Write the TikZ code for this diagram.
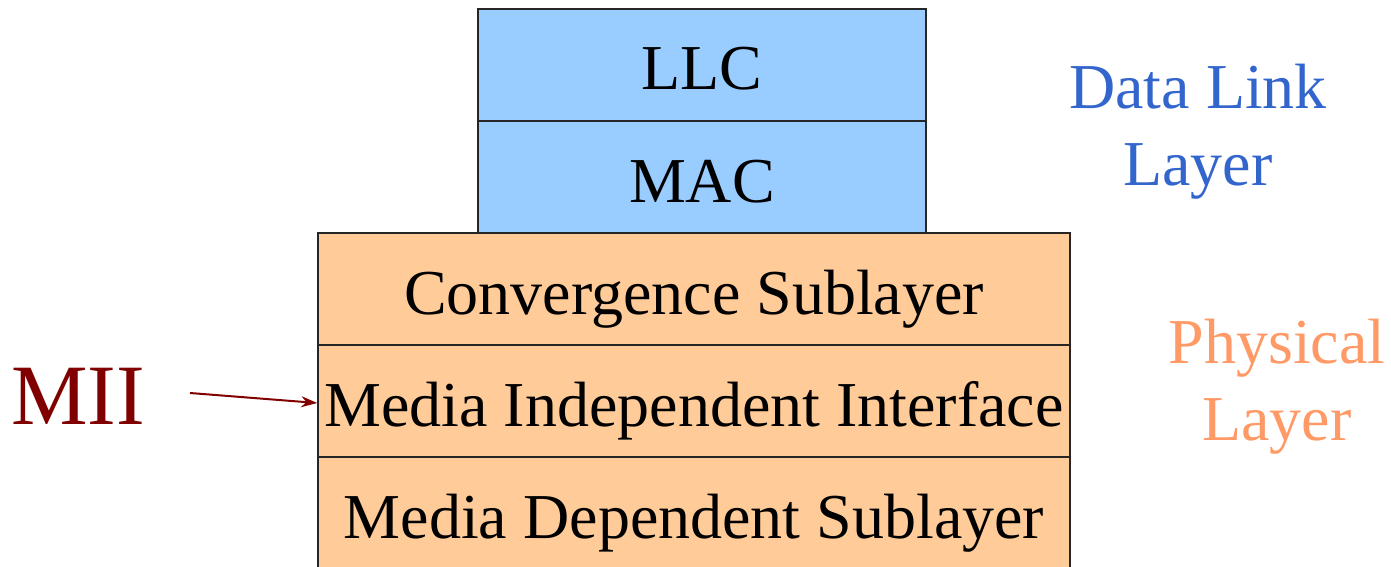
\documentclass[tikz,border=0pt]{standalone}
\usepackage{fontspec}
\setmainfont{Liberation Serif}
\usetikzlibrary{arrows.meta}
\definecolor{boxblue}{HTML}{99CCFF}
\definecolor{boxorange}{HTML}{FFCC99}
\definecolor{dlblue}{HTML}{3366CC}
\definecolor{phyorange}{HTML}{FF9966}
\definecolor{miired}{HTML}{800000}
\begin{document}
\begin{tikzpicture}[x=1bp,y=-1bp,
  layerbox/.style={draw=black!85, line width=1.6bp, inner sep=0pt, text height=50bp, text depth=0pt,
     minimum height=112bp, font=\fontsize{64bp}{70bp}\selectfont},
  bluebox/.style={layerbox, fill=boxblue, minimum width=448bp},
  orangebox/.style={layerbox, fill=boxorange, minimum width=752bp},
  sidelabel/.style={align=center, font=\fontsize{64bp}{77bp}\selectfont, inner sep=0pt}]
\useasboundingbox (0,0) rectangle (1391,567);
\node[bluebox] (llc) at (702,65) {LLC};
\node[bluebox] (mac) at (702,177) {MAC};
\node[orangebox] (conv) at (694,289) {Convergence Sublayer};
\node[orangebox] (mii) at (694,401) {Media Independent Interface};
\node[orangebox] (mds) at (694,513) {Media Dependent Sublayer};
\node[sidelabel, text=dlblue] (dll) at (1198,132) {Data Link\\Layer};
\node[sidelabel, text=phyorange] (phy) at (1277,387) {Physical\\Layer};
\node[anchor=base, inner sep=0pt, text=miired, font=\fontsize{86bp}{90bp}\selectfont] (miilbl) at (78,424) {MII};
\coordinate (astart) at (190,393);
\draw[miired, line width=2bp, -{Stealth[length=16bp,width=11bp]}] (astart) -- ([yshift=-2bp]mii.west);
\end{tikzpicture}
\end{document}
